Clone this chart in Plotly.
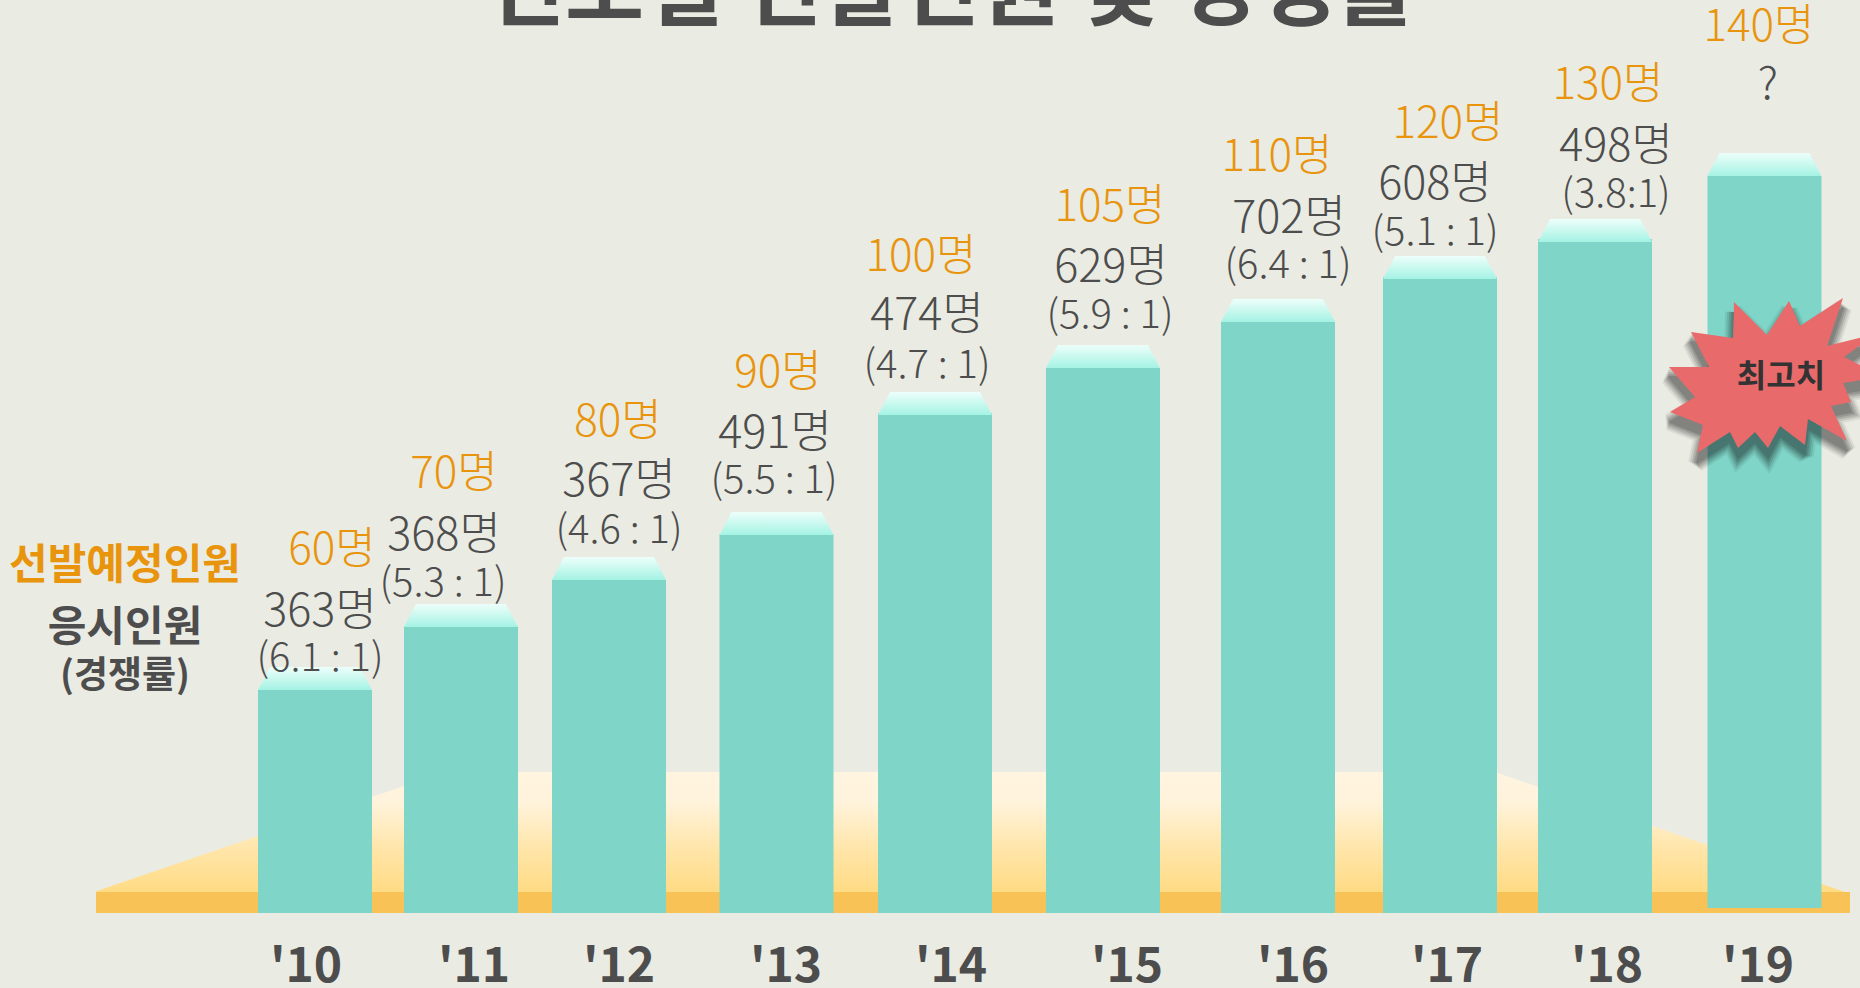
import plotly.graph_objects as go

FONT = "Noto Sans CJK KR"
BG = "#EAEBE3"
ORANGE = "#E8940C"
DARK = "#4D4D4D"
TEAL = "#7FD5C8"
BASE_PX = 913  # pixel row of the chart baseline

# ---------- data ----------
years = ["'10", "'11", "'12", "'13", "'14", "'15", "'16", "'17", "'18", "'19"]
planned = ["60명", "70명", "80명", "90명", "100명", "105명", "110명", "120명", "130명", "140명"]
applicants = ["363명", "368명", "367명", "491명", "474명", "629명", "702명", "608명", "498명", "?"]
ratios = ["(6.1 : 1)", "(5.3 : 1)", "(4.6 : 1)", "(5.5 : 1)", "(4.7 : 1)", "(5.9 : 1)",
          "(6.4 : 1)", "(5.1 : 1)", "(3.8:1)", ""]
bar_height = [223, 287, 333, 379, 500, 545, 591, 636, 674, 737]
bar_base = [0, 0, 0, 0, 0, 0, 0, 0, 0, 5]

# ---------- placement ----------
bar_x = [315, 461, 609, 776.5, 935, 1103, 1278, 1440, 1595, 1764.5]
bar_w = 114
cap_bottom = [690, 627, 580, 535, 415, 368, 322, 279, 242, 176]
cap_rise = 23
cap_inset = 12
year_x = [306, 474, 619, 786, 951, 1127, 1293, 1447, 1607, 1758]
planned_x = [332, 454, 618, 778, 921, 1110, 1277, 1448, 1608, 1759]
planned_y = [553, 477, 425, 376, 260, 210, 160, 127, 88, 30]
applicants_x = [320, 444, 619, 775, 927, 1111, 1289, 1435, 1616, 1768]
applicants_y = [615, 539, 485, 437, 319, 271, 222, 188, 150, 88]
ratios_x = [320, 443, 619, 774, 927, 1110, 1288, 1435, 1616, 1766]
ratios_y = [661, 586, 533, 483, 368, 318, 268, 235, 197, 240]

band_x = [96, 1850, 1850, 96]
band_y = [892, 892, 913, 913]
hill_x = [94, 445, 1495, 1845]
hill_y = [892, 772, 772, 892]

star_x = [1734, 1733, 1691, 1709, 1669, 1695, 1670, 1703, 1697, 1730, 1738, 1755, 1768, 1780,
          1805, 1808, 1847, 1831, 1851, 1843, 1875, 1870, 1844, 1875, 1827, 1843, 1800, 1789, 1767]
star_y = [302, 338, 332, 367, 367, 397, 412, 425, 453, 432, 448, 432, 448, 426,
          445, 419, 441, 406, 402, 383, 378, 370, 357, 334, 346, 298, 326, 301, 335]


def h(py):
    return BASE_PX - py


fig = go.Figure()

# hill and base band on the primary axes, behind the bars
fig.add_trace(go.Scatter(x=hill_x, y=[h(v) for v in hill_y], mode="lines", fill="toself",
                         line=dict(width=0), hoverinfo="skip", showlegend=False,
                         fillgradient=dict(type="vertical",
                                           colorscale=[[0, "#FFDB84"], [0.35, "#FFE5A8"],
                                                       [0.75, "#FFF3DC"], [1, "#FFF4DF"]])))
fig.add_trace(go.Scatter(x=band_x, y=[h(v) for v in band_y], mode="lines", fill="toself",
                         fillcolor="#F8C256", line=dict(width=0), hoverinfo="skip", showlegend=False))

# bars on the overlay axes
fig.add_trace(go.Bar(x=bar_x, y=[a - b for a, b in zip(bar_height, bar_base)], base=bar_base,
                     width=bar_w, marker=dict(color=TEAL, line=dict(width=0)),
                     xaxis="x2", yaxis="y2", hoverinfo="skip", showlegend=False))


def text_trace(x, py, labels, size, color, weight=300):
    return go.Scatter(x=x, y=[h(v) for v in py], text=labels, mode="text", textposition="middle center",
                      textfont=dict(family=FONT, size=size, color=color, weight=weight),
                      xaxis="x2", yaxis="y2", hoverinfo="skip", showlegend=False)


# bevelled caps
for cx, cb in zip(bar_x, cap_bottom):
    half = bar_w / 2
    fig.add_trace(go.Scatter(
        x=[cx - half, cx - half + cap_inset, cx + half - cap_inset, cx + half],
        y=[h(cb), h(cb - cap_rise), h(cb - cap_rise), h(cb)],
        mode="lines", fill="toself", line=dict(width=0), hoverinfo="skip", showlegend=False,
        fillgradient=dict(type="vertical", colorscale=[[0, "#A5F3E4"], [1, "#EDFEFA"]]),
        xaxis="x2", yaxis="y2"))

# labels, over the caps
fig.add_trace(text_trace(planned_x, planned_y, planned, 44, ORANGE))
fig.add_trace(text_trace(applicants_x, applicants_y, applicants, 45, DARK))
fig.add_trace(text_trace(ratios_x, ratios_y, ratios, 40, DARK))
fig.add_trace(text_trace([125], [568], ["선발예정인원"], 42, ORANGE, 700))
fig.add_trace(text_trace([125], [630], ["응시인원"], 42, DARK, 700))
fig.add_trace(text_trace([125], [679], ["(경쟁률)"], 37, DARK, 700))

# blurred shadow of the burst
for w, alpha in [(18, 0.06), (14, 0.09), (10, 0.11), (6, 0.13), (2, 0.13)]:
    fig.add_trace(go.Scatter(x=star_x + star_x[:1], y=[h(v + 10) for v in star_y + star_y[:1]],
                             mode="lines", fill="toself", fillcolor="#000000", opacity=alpha,
                             line=dict(width=w, color="#000000"),
                             hoverinfo="skip", showlegend=False, xaxis="x2", yaxis="y2"))
fig.add_trace(go.Scatter(x=star_x + star_x[:1], y=[h(v) for v in star_y + star_y[:1]],
                         mode="lines", fill="toself", fillcolor="#E96A6A", line=dict(width=0),
                         hoverinfo="skip", showlegend=False, xaxis="x2", yaxis="y2"))
fig.add_trace(text_trace([1781], [379], ["최고치"], 32, "#333333", 700))

axis_common = dict(range=[0, 1860], showgrid=False, zeroline=False, showline=False, automargin=False)
fig.update_layout(
    width=1860, height=988, autosize=False,
    margin=dict(l=0, r=0, t=0, b=988 - BASE_PX, pad=0),
    paper_bgcolor=BG, plot_bgcolor=BG, showlegend=False,
    font=dict(family=FONT, color=DARK),
    xaxis=dict(**axis_common, tickmode="array", tickvals=year_x, ticktext=years, ticks="",
               tickfont=dict(family=FONT, size=48, color=DARK, weight=700), ticklabelstandoff=20),
    yaxis=dict(range=[0, BASE_PX], showgrid=False, zeroline=False, showline=False, showticklabels=False,
               automargin=False),
    xaxis2=dict(**axis_common, overlaying="x", showticklabels=False),
    yaxis2=dict(range=[0, BASE_PX], showgrid=False, zeroline=False, showline=False,
                showticklabels=False, overlaying="y", automargin=False),
    annotations=[dict(text="연도별 선발인원 및 경쟁률", xref="paper", yref="paper", x=950 / 1860, y=1,
                      xanchor="center", yanchor="middle", yshift=19, showarrow=False,
                      font=dict(family=FONT, size=86, color=DARK, weight=700))],
)
fig.write_html("out.html", config={"displayModeBar": False},
               post_script="document.body.style.margin='0';document.body.style.overflow='hidden';"
                           "document.documentElement.style.background='" + BG + "';")
